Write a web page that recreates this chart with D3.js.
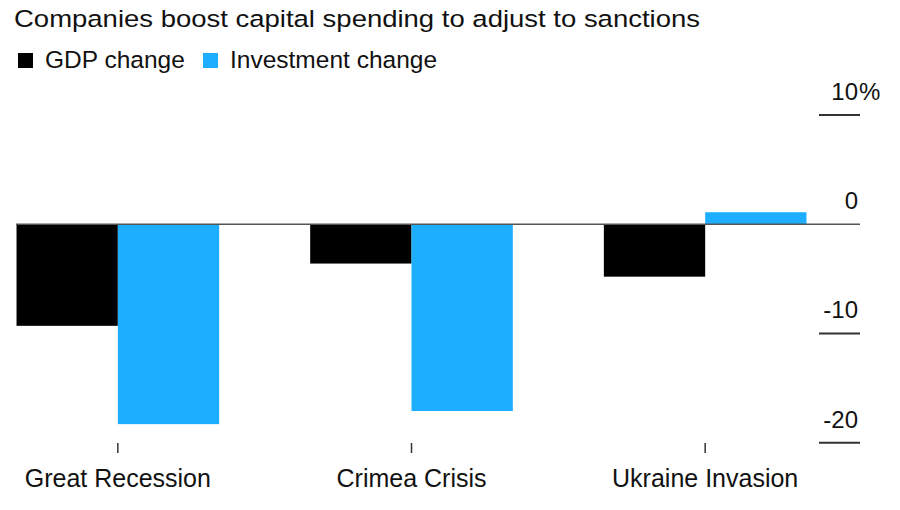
<!DOCTYPE html>
<html>
  <head>
    <meta charset="utf-8">
    <title>Companies boost capital spending</title>
    <script src="https://cdnjs.cloudflare.com/ajax/libs/d3/7.8.5/d3.min.js"></script>
    <style>
      body { margin: 0; background-color: white }
      svg text { font-family: "Liberation Sans", Arial, sans-serif; fill: #111 }
    </style>
  </head>
  <body>
    <div id="chart"></div>
  <script>
// values (percent change)
var categories = ["Great Recession", "Crimea Crisis", "Ukraine Invasion"];
var seriesNames = ["GDP change", "Investment change"];
var gdpChange = [-9.3, -3.6, -4.8];
var investmentChange = [-18.3, -17.1, 1.1];
var yTicks = [10, 0, -10, -20];
var colors = ["#000000", "#1eaeff"];

var W = 900, H = 510;
var svg = d3.select("#chart").append("svg")
    .attr("width", W)
    .attr("height", H);

svg.append("text")
    .attr("x", 14).attr("y", 27)
    .attr("textLength", 686)
    .attr("lengthAdjust", "spacingAndGlyphs")
    .style("font-size", "24.5px")
    .text("Companies boost capital spending to adjust to sanctions");

// legend
var leg = svg.append("g");
var legX = [18, 203];
seriesNames.forEach(function(name, i){
    leg.append("rect")
	.attr("x", legX[i]).attr("y", 53)
	.attr("width", 15).attr("height", 15)
	.style("fill", colors[i]);
    leg.append("text")
	.attr("x", legX[i] + 27).attr("y", 68)
	.style("font-size", "24.5px")
	.text(name);
});

var y = d3.scaleLinear().domain([-20, 10]).range([442.7, 115]);
var x = d3.scaleBand().domain(categories)
    .range([-29, 852]).paddingInner(0.31).paddingOuter(0.155);
var xs = d3.scaleBand().domain(seriesNames).range([0, x.bandwidth()]);

var rows = categories.map(function(c, i){
    return { cat: c, values: [gdpChange[i], investmentChange[i]] };
});

// right-hand axis: short tick lines + labels
var axisG = svg.append("g");
axisG.selectAll("line.tick").data(yTicks.filter(function(d){ return d !== 0; }))
    .enter().append("line")
    .attr("x1", 819).attr("x2", 860)
    .attr("y1", function(d){ return y(d); })
    .attr("y2", function(d){ return y(d); })
    .style("stroke", "#333").style("stroke-width", 2);
axisG.selectAll("text.lab").data(yTicks).enter().append("text")
    .attr("class", "lab")
    .attr("x", 858)
    .attr("y", function(d){ return y(d) - 15; })
    .attr("text-anchor", "end")
    .style("font-size", "24px")
    .text(function(d){ return d; });
axisG.append("text")
    .attr("x", 859)
    .attr("y", y(yTicks[0]) - 15)
    .style("font-size", "24px")
    .text("%");

// bars
var groups = svg.selectAll("g.grp").data(rows).enter().append("g")
    .attr("transform", function(d){ return "translate(" + x(d.cat) + ",0)"; });
groups.selectAll("rect").data(function(d){
	return d.values.map(function(v, i){ return { name: seriesNames[i], v: v, i: i }; });
    })
    .enter().append("rect")
    .attr("x", function(d){ return xs(d.name); })
    .attr("width", xs.bandwidth())
    .attr("y", function(d){ return y(Math.max(0, d.v)); })
    .attr("height", function(d){ return Math.abs(y(d.v) - y(0)); })
    .style("fill", function(d){ return colors[d.i]; });

// zero line
svg.append("line")
    .attr("x1", 16).attr("x2", 860)
    .attr("y1", y(0)).attr("y2", y(0))
    .style("stroke", "#555").style("stroke-width", 1.5);

// category ticks and labels
var xg = svg.append("g");
xg.selectAll("line").data(categories).enter().append("line")
    .attr("x1", function(d){ return x(d) + x.bandwidth() / 2; })
    .attr("x2", function(d){ return x(d) + x.bandwidth() / 2; })
    .attr("y1", 443).attr("y2", 453)
    .style("stroke", "#333").style("stroke-width", 1.5);
xg.selectAll("text").data(categories).enter().append("text")
    .attr("x", function(d){ return x(d) + x.bandwidth() / 2; })
    .attr("y", 487)
    .attr("text-anchor", "middle")
    .style("font-size", "25px")
    .text(function(d){ return d; });
  </script>
  </body>
</html>
